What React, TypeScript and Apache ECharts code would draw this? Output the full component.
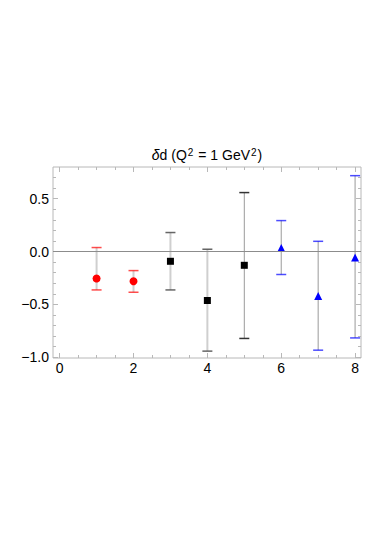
import React, { useEffect, useRef } from "react";
import * as echarts from "echarts";

// ---- data ----
const redX = [1, 2];
const redY = [-0.255, -0.281];
const redLo = [-0.363, -0.385];
const redHi = [0.038, -0.18];

const blackX = [3, 4, 5];
const blackY = [-0.092, -0.463, -0.13];
const blackLo = [-0.363, -0.942, -0.822];
const blackHi = [0.18, 0.022, 0.558];

const blueX = [6, 7, 8];
const blueY = [0.034, -0.42, -0.057];
const blueLo = [-0.217, -0.933, -0.817];
const blueHi = [0.293, 0.097, 0.718];

const xMajor = [0, 2, 4, 6, 8];
const xMinor = [0.5, 1, 1.5, 2.5, 3, 3.5, 4.5, 5, 5.5, 6.5, 7, 7.5];
const yMajor = [-1, -0.5, 0, 0.5];
const yMinor = [-0.9, -0.8, -0.7, -0.6, -0.4, -0.3, -0.2, -0.1, 0.1, 0.2, 0.3, 0.4, 0.6, 0.7];

// ---- styles ----
const RED = "#ff0000";
const BLACK = "#000000";
const BLUE = "#0000ff";
const FRAME = "#b8b8b8";
const FONT = "Liberation Sans";

const X_MIN = -0.18;
const X_MAX = 8.16;
const Y_MIN = -1.007;
const Y_MAX = 0.8;

function errorSeries(xs: number[], lo: number[], hi: number[], capColor: string, barColor: string, barWidth: number, capOpacity: number) {
  return {
    type: "custom",
    xAxisIndex: 0,
    yAxisIndex: 0,
    z: 2,
    silent: true,
    data: xs.map((x, i) => [x, lo[i], hi[i]]),
    renderItem: (params: any, api: any) => {
      const x = api.value(0);
      const pLo = api.coord([x, api.value(1)]);
      const pHi = api.coord([x, api.value(2)]);
      const hw = 5;
      return {
        type: "group",
        children: [
          {
            type: "line",
            shape: { x1: pLo[0], y1: pLo[1], x2: pHi[0], y2: pHi[1] },
            style: { stroke: barColor, lineWidth: barWidth },
          },
          {
            type: "line",
            shape: { x1: pLo[0] - hw, y1: pLo[1], x2: pLo[0] + hw, y2: pLo[1] },
            style: { stroke: capColor, lineWidth: 1.5, opacity: capOpacity },
          },
          {
            type: "line",
            shape: { x1: pHi[0] - hw, y1: pHi[1], x2: pHi[0] + hw, y2: pHi[1] },
            style: { stroke: capColor, lineWidth: 1.5, opacity: capOpacity },
          },
        ],
      };
    },
  };
}

function fmtY(v: number) {
  const s = Math.abs(v).toFixed(1);
  return v < 0 ? "\u2212" + s : s;
}

export default function App() {
  const ref = useRef<HTMLDivElement>(null);

  useEffect(() => {
    if (!ref.current) return;
    const chart = echarts.init(ref.current, null, { renderer: "svg" });

    const xBase = {
      type: "value",
      min: X_MIN,
      max: X_MAX,
      splitLine: { show: false },
      axisLine: { show: false, onZero: false },
    };
    const yBase = {
      type: "value",
      min: Y_MIN,
      max: Y_MAX,
      splitLine: { show: false },
      axisLine: { show: false, onZero: false },
    };
    const tick = (vals: number[], len: number) => ({
      show: true,
      inside: true,
      length: len,
      customValues: vals,
      lineStyle: { color: FRAME, width: 1 },
    });

    const option: any = {
      animation: false,
      backgroundColor: "#ffffff",
      grid: {
        left: 53,
        top: 167,
        width: 308,
        height: 191,
        show: true,
        borderColor: FRAME,
        borderWidth: 1,
        backgroundColor: "transparent",
      },
      graphic: [
        {
          type: "text",
          x: 207,
          y: 155,
          style: {
            text: "{i|δ}d (Q{sup|2} = 1 GeV{sup|2})",
            align: "center",
            verticalAlign: "middle",
            fontFamily: FONT,
            fontSize: 14,
            fill: "#000",
            rich: {
              i: { fontFamily: FONT, fontSize: 14, fontStyle: "italic", fill: "#000" },
              sup: { fontFamily: FONT, fontSize: 10, verticalAlign: "top", padding: [0, 1, 6, 1], fill: "#000" },
            },
          },
        },
      ],
      xAxis: [
        {
          ...xBase,
          position: "bottom",
          axisTick: tick(xMajor, 5),
          axisLabel: {
            show: true,
            customValues: xMajor,
            fontFamily: FONT,
            fontSize: 14,
            color: "#000",
            margin: 3,
            formatter: (v: number) => String(v),
          },
        },
        { ...xBase, position: "bottom", axisTick: tick(xMinor, 3), axisLabel: { show: false } },
        { ...xBase, position: "top", axisTick: tick(xMajor, 5), axisLabel: { show: false } },
        { ...xBase, position: "top", axisTick: tick(xMinor, 3), axisLabel: { show: false } },
      ],
      yAxis: [
        {
          ...yBase,
          position: "left",
          axisTick: tick(yMajor, 5),
          axisLabel: {
            show: true,
            customValues: yMajor,
            fontFamily: FONT,
            fontSize: 14,
            color: "#000",
            margin: 4,
            formatter: (v: number) => fmtY(v),
          },
        },
        { ...yBase, position: "left", axisTick: tick(yMinor, 3), axisLabel: { show: false } },
        { ...yBase, position: "right", axisTick: tick(yMajor, 5), axisLabel: { show: false } },
        { ...yBase, position: "right", axisTick: tick(yMinor, 3), axisLabel: { show: false } },
      ],
      series: [
        {
          type: "line",
          data: [],
          silent: true,
          markLine: {
            silent: true,
            symbol: ["none", "none"],
            label: { show: false },
            lineStyle: { color: "#8c8c8c", width: 1, type: "solid" },
            data: [{ yAxis: 0 }],
          },
        },
        errorSeries(redX, redLo, redHi, RED, "#cfcfcf", 2, 0.7),
        errorSeries([blackX[0], blackX[1]], [blackLo[0], blackLo[1]], [blackHi[0], blackHi[1]], "#555", "#cfcfcf", 2, 0.9),
        errorSeries([blackX[2]], [blackLo[2]], [blackHi[2]], "#333", "#9a9a9a", 1, 1),
        errorSeries(blueX, blueLo, blueHi, BLUE, "#9a9a9a", 1, 0.7),
        {
          type: "scatter",
          z: 3,
          symbol: "circle",
          symbolSize: 8,
          itemStyle: { color: RED, opacity: 1 },
          data: redX.map((x, i) => [x, redY[i]]),
        },
        {
          type: "scatter",
          z: 3,
          symbol: "rect",
          symbolSize: 7,
          itemStyle: { color: BLACK, opacity: 1 },
          data: blackX.map((x, i) => [x, blackY[i]]),
        },
        {
          type: "scatter",
          z: 3,
          symbol: "triangle",
          symbolSize: 8,
          itemStyle: { color: BLUE, opacity: 1 },
          data: blueX.map((x, i) => [x, blueY[i]]),
        },
      ],
    };

    chart.setOption(option);
    return () => chart.dispose();
  }, []);

  return (
    <div
      ref={ref}
      style={{ position: "fixed", left: 0, top: 0, width: 382, height: 540 }}
    />
  );
}
